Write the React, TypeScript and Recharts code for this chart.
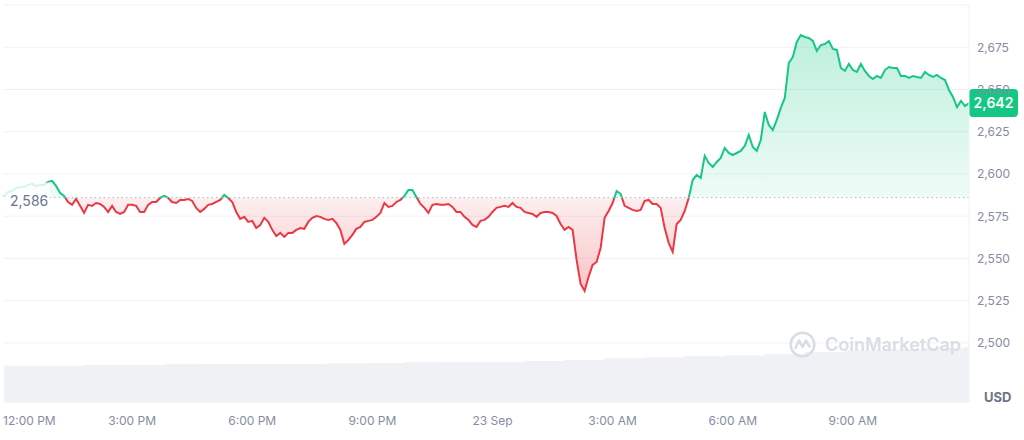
import React from "react";
import {
  ComposedChart, Area, XAxis, YAxis, CartesianGrid, ReferenceLine,
} from "recharts";

// ETH/USD, last 24h, one point every 6 minutes starting 11:48 AM on 22 Sep
const stepMinutes = 6;
const prices = [
  2586.6, 2589.3, 2589.9, 2591.7, 2592.3, 2592.3, 2593.5, 2594.1, 2592.9, 2593.5,
  2593.5, 2595.3, 2595.9, 2592.9, 2588.8, 2587.0, 2583.4, 2581.7, 2585.2,
  2581.1, 2576.9, 2581.7, 2581.1, 2582.8, 2582.2, 2580.5, 2577.5, 2581.1, 2577.5,
  2576.3, 2577.5, 2581.7, 2581.7, 2581.1, 2577.5, 2577.5, 2581.7, 2583.4, 2583.4,
  2585.8, 2587.0, 2585.8, 2583.4, 2582.8, 2584.6, 2584.6, 2585.2, 2584.0, 2579.9,
  2577.5, 2579.3, 2581.7, 2582.2, 2583.4, 2584.6, 2587.6, 2585.8, 2583.4, 2577.5,
  2573.4, 2574.6, 2571.6, 2572.2, 2568.0, 2569.8, 2574.0, 2571.6, 2566.9, 2563.3,
  2565.1, 2562.7, 2565.1, 2565.1, 2566.9, 2568.0, 2567.5, 2571.6, 2574.0, 2575.1,
  2574.6, 2573.4, 2572.8, 2573.4, 2571.0, 2566.9, 2558.6, 2560.9, 2563.9, 2567.5,
  2568.6, 2571.6, 2572.2, 2572.8, 2574.6, 2576.9, 2582.8, 2580.5, 2581.1, 2583.4,
  2584.6, 2587.0, 2590.5, 2590.5, 2586.4, 2582.2, 2579.9, 2576.9, 2581.7, 2582.2,
  2581.7, 2581.7, 2582.2, 2580.5, 2577.5, 2577.5, 2574.6, 2572.8, 2569.8, 2568.6,
  2572.2, 2572.8, 2574.6, 2577.5, 2579.9, 2580.5, 2581.1, 2580.5, 2582.8, 2580.5,
  2579.9, 2577.5, 2576.9, 2576.3, 2574.6, 2576.9, 2577.5, 2577.5, 2576.9, 2575.1,
  2570.4, 2566.9, 2568.6, 2566.9, 2549.1, 2534.9, 2530.8, 2539.1, 2546.2, 2547.9,
  2556.2, 2574.0, 2578.1, 2582.8, 2589.9, 2588.2, 2581.1, 2579.9, 2578.7, 2578.1,
  2578.7, 2584.0, 2584.6, 2582.2, 2582.2, 2579.9, 2568.0, 2559.2, 2553.8, 2570.4,
  2572.8, 2578.1, 2585.8, 2596.4, 2599.4, 2597.6, 2610.7, 2606.5, 2604.1, 2607.1,
  2609.5, 2615.4, 2612.4, 2611.2, 2612.4, 2613.6, 2616.6, 2623.1, 2616.0, 2613.6,
  2620.1, 2636.7, 2629.0, 2626.0, 2632.0, 2639.1, 2645.0, 2665.7, 2669.2, 2678.1,
  2682.2, 2681.1, 2680.5, 2678.7, 2672.8, 2676.3, 2676.9, 2678.7, 2674.0, 2673.4,
  2662.7, 2661.0, 2665.1, 2661.5, 2660.4, 2665.1, 2661.0, 2658.0, 2656.2, 2658.0,
  2656.8, 2661.5, 2663.3, 2662.7, 2662.7, 2658.0, 2658.0, 2656.8, 2658.0, 2657.4,
  2656.8, 2660.4, 2658.6, 2657.4, 2658.6, 2656.8, 2655.6, 2649.7, 2645.6, 2639.6,
  2643.2, 2640.2, 2642.0,
];

// hourly volume (relative units, drawn in the bottom band)
const hourlyVolume = [
  9.1, 9.1, 9.3, 9.3, 9.5, 9.6, 9.6, 9.6, 9.7, 9.8, 10.0, 10.1, 10.1,
  10.3, 10.6, 11.0, 11.2, 11.5, 11.7, 12.0, 12.6, 13.0, 13.3, 13.6, 13.9,
];

const openPrice = 2586;
const priceMin = 2465;
const priceMax = 2700;
const priceTicks = [2500, 2525, 2550, 2575, 2600, 2625, 2650, 2675, 2700];
const timeTicks = [12, 192, 372, 552, 732, 912, 1092, 1272];
const timeLabels = ["12:00 PM", "3:00 PM", "6:00 PM", "9:00 PM", "23 Sep", "3:00 AM", "6:00 AM", "9:00 AM"];

const GREEN = "#16c784";
const RED = "#ea3943";
const TICK = "#858ca2";

const data = prices.map((p, i) => ({
  t: i * stepMinutes,
  price: p,
  volume: hourlyVolume[Math.floor((i * stepMinutes) / 60)],
}));
const lastT = data[data.length - 1].t;
const lastPrice = prices[prices.length - 1];
const hi = Math.max(...prices);
const lo = Math.min(...prices);
const splitOffset = (hi - openPrice) / (hi - lo);

const fmt = (v: number) => v.toLocaleString("en-US");

function TimeTick({ x, y, payload, index }: any) {
  const label = timeLabels[timeTicks.indexOf(payload.value)];
  const first = index === 0;
  return (
    <text x={first ? x - 9 : x} y={y} dy={14.5} textAnchor={first ? "start" : "middle"}
      fill={TICK} fontSize={12}>
      {label}
    </text>
  );
}

function PriceTick({ x, y, payload }: any) {
  if (payload.value >= priceMax) return <g />;
  return (
    <text x={x} y={y} dy={4.5} textAnchor="start" fill={TICK} fontSize={12}>
      {fmt(payload.value)}
    </text>
  );
}

function OpenLabel({ viewBox }: any) {
  const { x, y } = viewBox;
  return (
    <g>
      <rect x={x} y={y - 15} width={46} height={30} fill="#fff" fillOpacity={0.82} />
      <text x={x + 6} y={y + 8} fill="#6b7590" fontSize={14}>{fmt(openPrice)}</text>
    </g>
  );
}

function LastBadge({ viewBox }: any) {
  const x = viewBox.x + viewBox.width;
  const y = viewBox.y;
  return (
    <g>
      <rect x={x} y={y - 14} width={49} height={28} rx={4} fill={GREEN} />
      <text x={x + 24.5} y={y + 5} textAnchor="middle" fill="#fff" fontSize={14} fontWeight={600}>
        {fmt(lastPrice)}
      </text>
    </g>
  );
}

export default function App() {
  return (
    <div style={{ position: "fixed", left: 0, top: 0, width: 1024, height: 440, background: "#fff", fontFamily: "Inter, sans-serif" }}>
      <ComposedChart width={1024} height={440} data={data} margin={{ top: 5, right: 0, left: 4, bottom: 0 }}>
        <defs>
          <linearGradient id="lineSplit" x1="0" y1="0" x2="0" y2="1">
            <stop offset={splitOffset} stopColor={GREEN} />
            <stop offset={splitOffset} stopColor={RED} />
          </linearGradient>
          <linearGradient id="fillSplit" x1="0" y1="0" x2="0" y2="1">
            <stop offset={0} stopColor={GREEN} stopOpacity={0.28} />
            <stop offset={splitOffset} stopColor={GREEN} stopOpacity={0.07} />
            <stop offset={splitOffset} stopColor={RED} stopOpacity={0.08} />
            <stop offset={1} stopColor={RED} stopOpacity={0.3} />
          </linearGradient>
        </defs>
        <CartesianGrid vertical={false} stroke="#eff2f5" yAxisId="price" />
        <XAxis
          type="number"
          dataKey="t"
          domain={[0, lastT]}
          ticks={timeTicks}
          interval={0}
          axisLine={false}
          tickLine={false}
          height={38}
          tick={<TimeTick />}
        />
        <YAxis
          yAxisId="price"
          orientation="right"
          domain={[priceMin, priceMax]}
          ticks={priceTicks}
          interval={0}
          allowDataOverflow
          width={55}
          axisLine={{ stroke: "#eff2f5" }}
          tickLine={false}
          tick={<PriceTick />}
        />
        <YAxis yAxisId="vol" hide domain={[0, 100]} />
        <Area
          yAxisId="vol"
          dataKey="volume"
          type="stepAfter"
          stroke="none"
          fill="#eff1f5"
          fillOpacity={1}
          isAnimationActive={false}
        />
        <Area
          yAxisId="price"
          dataKey="price"
          type="linear"
          baseValue={openPrice}
          stroke="url(#lineSplit)"
          strokeWidth={2}
          fill="url(#fillSplit)"
          fillOpacity={1}
          dot={false}
          activeDot={false}
          isAnimationActive={false}
        />
        <ReferenceLine yAxisId="price" y={openPrice} stroke="#b4bac8" strokeDasharray="1.5 3" label={OpenLabel} />
        <ReferenceLine yAxisId="price" y={lastPrice} stroke="none" label={LastBadge} />
      </ComposedChart>
      <div style={{ position: "absolute", left: 789, top: 331, display: "flex", alignItems: "center", gap: 9, color: "#d9dde5", fontSize: 18, fontWeight: 600 }}>
        <svg width={27} height={27} viewBox="0 0 27 27">
          <circle cx={13.5} cy={13.5} r={11.8} fill="none" stroke="#d9dde5" strokeWidth={2.6} />
          <path d="M6.5 17 L10 9.5 L13.5 16 L17 9.5 L20.5 15.5" fill="none" stroke="#d9dde5" strokeWidth={2.6} strokeLinejoin="round" strokeLinecap="round" />
        </svg>
        <span>CoinMarketCap</span>
      </div>
      <div style={{ position: "absolute", left: 984, top: 389, lineHeight: "16px", fontSize: 13, fontWeight: 700, color: "#6c7489" }}>
        USD
      </div>
    </div>
  );
}
